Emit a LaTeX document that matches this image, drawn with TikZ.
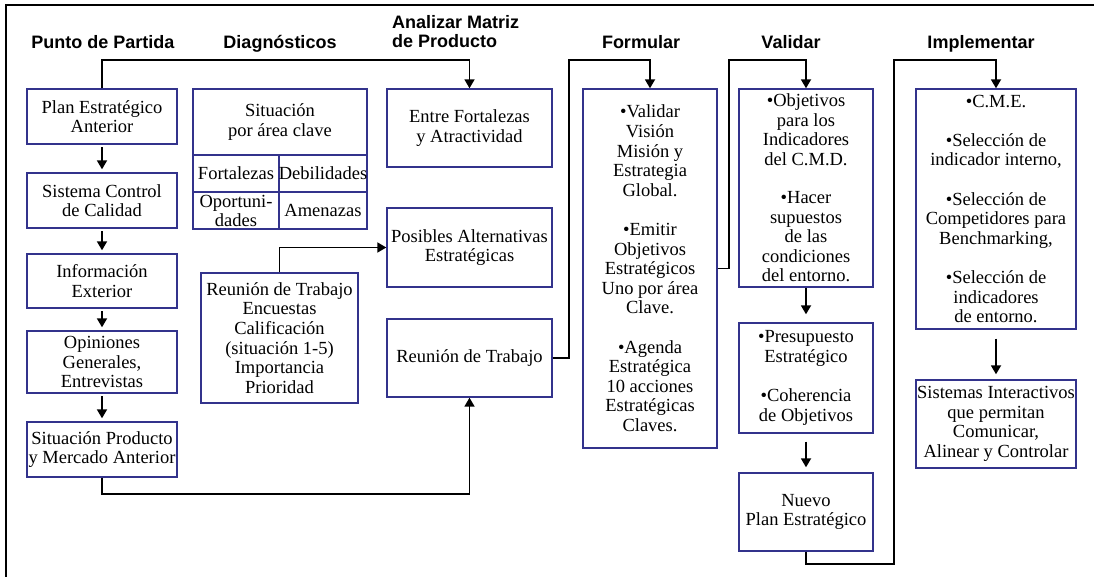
\documentclass[tikz,border=0pt]{standalone}
\usepackage{fontspec}
\setmainfont{Liberation Serif}
\newfontfamily\headfont{Liberation Sans}
\usetikzlibrary{arrows.meta}
\definecolor{boxblue}{RGB}{51,51,140}
\newcommand\gap{\\[\baselineskip]}

\begin{document}
\begin{tikzpicture}[x=1pt,y=-1pt,
  box/.style={draw=boxblue, line width=1.4pt, inner sep=0pt, align=center,
              font=\fontsize{18.5pt}{19.6pt}\selectfont},
  wh/.style 2 args={minimum width=#1pt, minimum height=#2pt},
  head/.style={font=\headfont\bfseries\fontsize{18pt}{18.5pt}\selectfont,
               anchor=base, inner sep=0pt},
  conn/.style={line width=1.8pt, line join=miter},
  arr/.style={conn, -{Triangle[width=10pt,length=9pt]}},
]
\useasboundingbox (0,0) rectangle (1094,577);

% frame (top and left edges)
\coordinate (ftl) at (6,5);
\coordinate (ftr) at (1094,5);
\coordinate (fbl) at (6,577);
\draw[line width=1.3pt] (ftr) -- (ftl) -- (fbl);

% level of the upper connector rail
\coordinate (rail) at (0,60);
\coordinate (r3) at (894,60);

% column headings
\node[head] (h1) at (103,48.5) {Punto de Partida};
\node[head] (h2) at (280,48.5) {Diagnósticos};
\node[head, anchor=south west, align=left] (h3) at (392,47.5) {Analizar Matriz\\de Producto};
\node[head] (h4) at (641,48.5) {Formular};
\node[head] (h5) at (791,48.5) {Validar};
\node[head] (h6) at (981,48.5) {Implementar};

% Punto de Partida
\node[box, wh={150}{55}] (pp1) at (102,116.5) {Plan Estratégico\\Anterior};
\node[box, wh={150}{55}] (pp2) at (102,200.5) {Sistema Control\\de Calidad};
\node[box, wh={150}{54}] (pp3) at (102,281) {Información\\Exterior};
\node[box, wh={150}{62}] (pp4) at (102,362) {Opiniones\\Generales,\\Entrevistas};
\node[box, wh={150}{55}] (pp5) at (102,449.5) {Situación Producto\\y Mercado Anterior};

% Diagnósticos
\node[box, wh={174}{66}] (sit) at (280,122) {Situación\\por área clave};
\node[box, wh={86}{37}] (fort) at (236,173.5) {Fortalezas};
\node[box, wh={88}{37}] (deb) at (323,173.5) {Debilidades};
\node[box, wh={86}{37}, font=\fontsize{18.5pt}{19pt}\selectfont] (opo) at (236,210.5) {Oportuni-\\dades};
\node[box, wh={88}{37}] (ame) at (323,210.5) {Amenazas};
\node[box, wh={157}{130}] (enc) at (279.5,338) {Reunión de Trabajo\\Encuestas\\Calificación\\(situación 1-5)\\Importancia\\Prioridad};

% Analizar Matriz de Producto
\node[box, wh={165}{78}] (ent) at (469.5,128) {Entre Fortalezas\\y Atractividad};
\node[box, wh={165}{79}] (pos) at (469.5,247.5) {Posibles Alternativas\\Estratégicas};
\node[box, wh={165}{78}] (reu) at (469.5,358) {Reunión de Trabajo};

% Formular
\node[box, wh={134}{359}] (form) at (650,268.5) {•Validar\\Visión\\Misión y\\Estrategia\\Global.\gap
  •Emitir\\Objetivos\\Estratégicos\\Uno por área\\Clave.\gap
  •Agenda\\Estratégica\\10 acciones\\Estratégicas\\Claves.};

% Validar
\node[box, wh={134}{198}, font=\fontsize{18.5pt}{19.4pt}\selectfont] (val1) at (806,188)
  {•Objetivos\\para los\\Indicadores\\del C.M.D.\gap
  •Hacer\\supuestos\\de las\\condiciones\\del entorno.};
\node[box, wh={134}{110}] (val2) at (806,378) {•Presupuesto\\Estratégico\gap •Coherencia\\de Objetivos};
\node[box, wh={134}{78}] (val3) at (806,512) {Nuevo\\Plan Estratégico};

% Implementar
\node[box, wh={160}{240}] (imp) at (996,209) {•C.M.E.\gap •Selección de\\indicador interno,\gap
  •Selección de\\Competidores para\\Benchmarking,\gap •Selección de\\indicadores\\de entorno.};
\node[box, wh={160}{88}] (sis) at (996,424) {Sistemas Interactivos\\que permitan\\Comunicar,\\Alinear y Controlar};

% connectors
\draw[arr] (pp1.north) -- (pp1.north |- rail) -| (ent.north);
\foreach \a/\b in {pp1/pp2,pp2/pp3,pp3/pp4,pp4/pp5}
  \draw[arr, shorten <=2.5pt, shorten >=3pt] (\a.south) -- (\b.north);
\draw[arr] (enc.north) |- (pos.west);
\draw[arr] (pp5.south) -- ++(0,16) -| (reu.south);
\draw[arr] (reu.east) -- ++(16,0) |- (form.north |- rail) -- (form.north);
\draw[arr] (form.east) -- ++(11,0) |- (val1.north |- rail) -- (val1.north);
\draw[arr, shorten >=8pt] (val1.south) -- (val2.north);
\draw[arr, shorten <=8pt, shorten >=5pt] (val2.south) -- (val3.north);
\draw[arr] (val3.south) -- ++(0,12) -| (r3) -- (imp.north |- rail) -- (imp.north);
\draw[arr, shorten <=9pt, shorten >=5pt] (imp.south) -- (sis.north);
\end{tikzpicture}
\end{document}
